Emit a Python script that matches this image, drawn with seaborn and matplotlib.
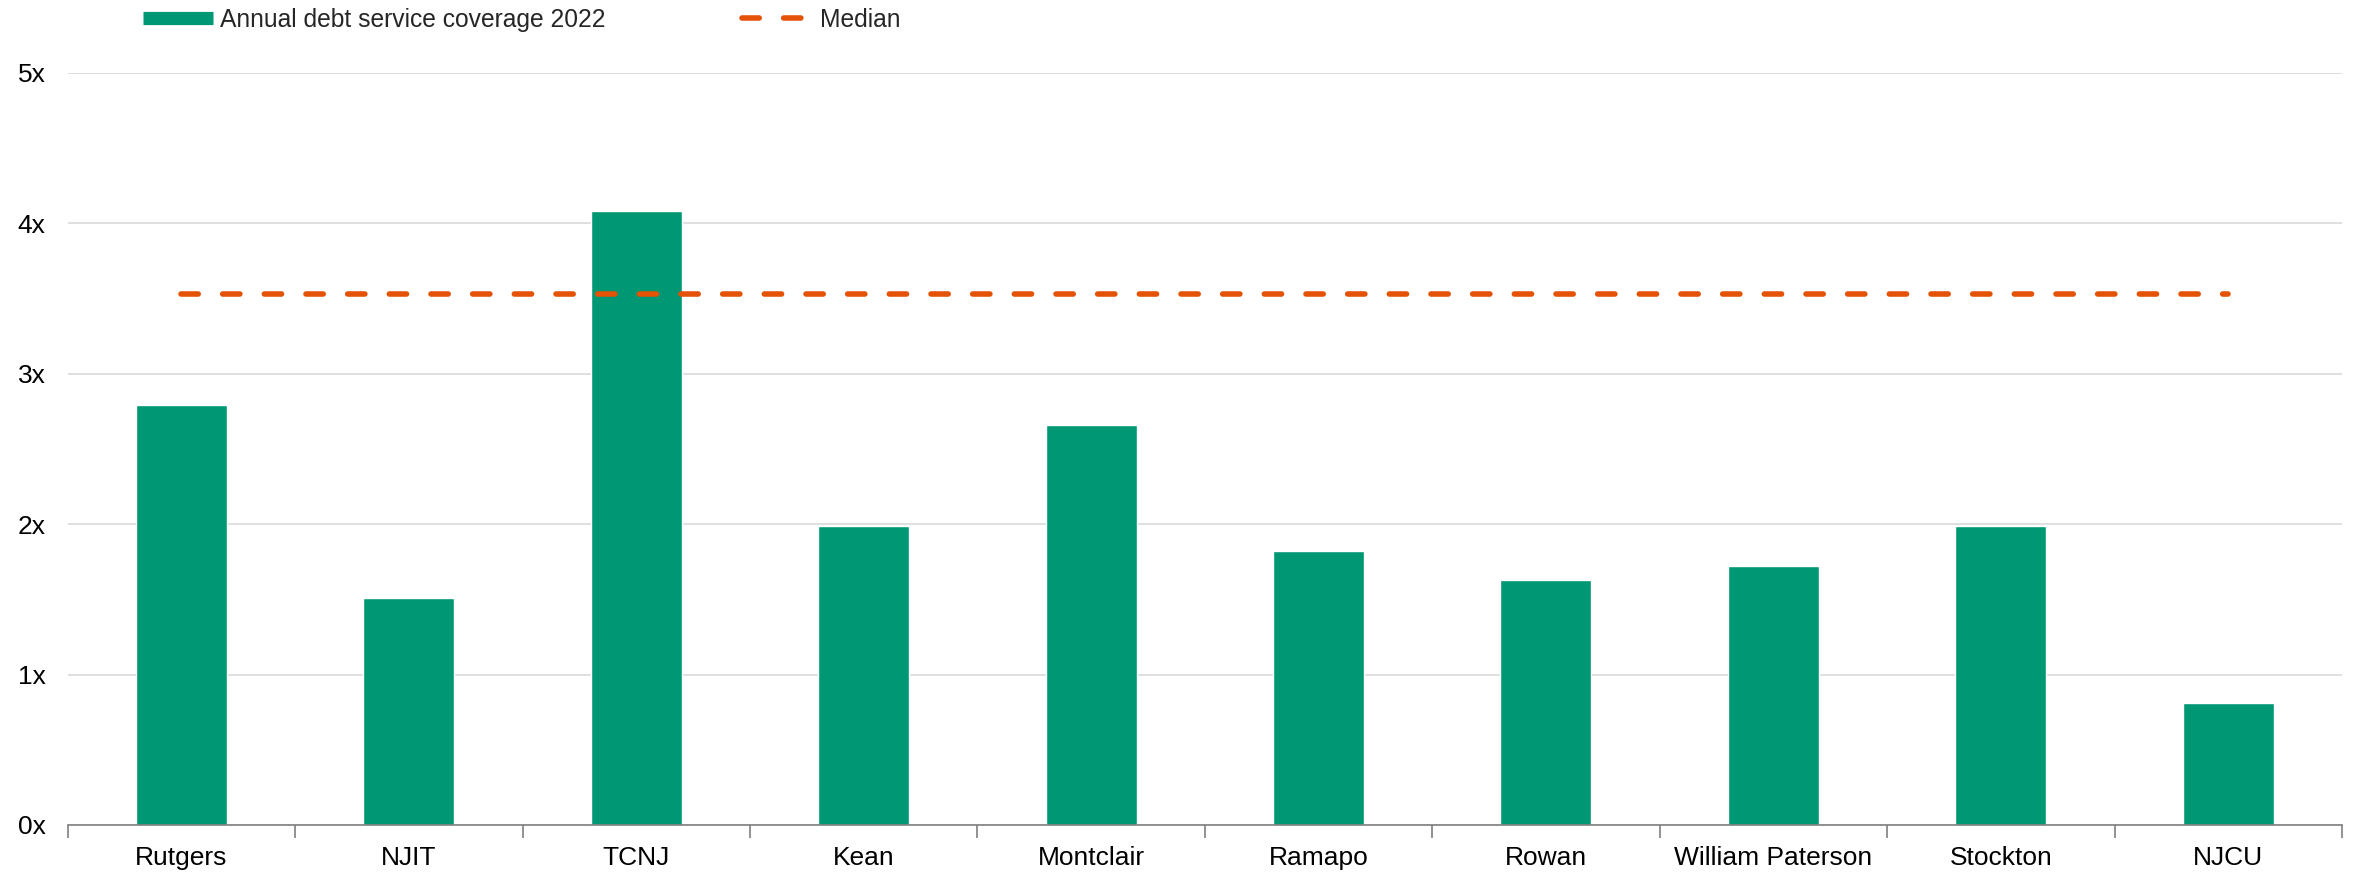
import numpy as np
import pandas as pd
import seaborn as sns
import matplotlib.pyplot as plt
from matplotlib.lines import Line2D

sns.set_style("white")
plt.rcParams["font.family"] = ["Liberation Sans", "DejaVu Sans"]

schools = ["Rutgers", "NJIT", "TCNJ", "Kean", "Montclair", "Ramapo",
           "Rowan", "William Paterson", "Stockton", "NJCU"]
coverage_2022 = [2.79, 1.51, 4.08, 1.99, 2.66, 1.82, 1.63, 1.72, 1.99, 0.81]
median_value = 3.53
y_ticks = [0, 1, 2, 3, 4, 5]
y_labels = ["0x", "1x", "2x", "3x", "4x", "5x"]

green = "#009874"
orange = "#E35205"

df = pd.DataFrame({"school": schools, "coverage": coverage_2022})

fig = plt.figure(figsize=(23.58, 8.74), dpi=100)
ax = fig.add_axes([0.0287, 0.0561, 0.9645, 0.8604])

sns.barplot(data=df, x="school", y="coverage", color=green, saturation=1,
            width=0.4, ax=ax, zorder=3)

# median line, centre of first bar to centre of last bar
ax.plot(np.arange(len(schools)), [median_value] * len(schools), color=orange,
        lw=4, dashes=(3.1, 4.4), dash_capstyle="round", zorder=4)

ax.set_xlim(-0.5, len(schools) - 0.5)
ax.set_ylim(0, 5)
ax.set_yticks(y_ticks)
ax.set_yticklabels(y_labels)
ax.set_xlabel("")
ax.set_ylabel("")

ax.grid(axis="y", color="#D9D9D9", lw=1.2, zorder=0)
ax.set_axisbelow(True)
for s in ["top", "right", "left"]:
    ax.spines[s].set_visible(False)
ax.spines["bottom"].set_color("#7F7F7F")
ax.spines["bottom"].set_linewidth(1.2)
ax.spines["bottom"].set_zorder(5)

ax.tick_params(axis="x", length=0, pad=15, labelsize=19, colors="black")
ax.tick_params(axis="y", length=0, pad=16, labelsize=19, colors="black")
# tick marks sit between categories
ax.set_xticks(np.arange(-0.5, len(schools)), minor=True)
ax.tick_params(axis="x", which="minor", bottom=True, length=9, width=1.2,
               color="#7F7F7F", direction="out")

handles = [
    Line2D([], [], color=green, lw=9.5, solid_capstyle="butt"),
    Line2D([], [], color=orange, lw=4, dashes=(3.1, 4.4), dash_capstyle="round"),
]
fig.legend(handles, ["Annual debt service coverage 2022", "Median"],
           loc="upper left", bbox_to_anchor=(0.0606, 0.991), ncol=2,
           frameon=False, fontsize=17.7, handlelength=2.85, handletextpad=0.3,
           columnspacing=5.55, borderaxespad=0, borderpad=0)

fig.savefig("out.png", dpi=100)
